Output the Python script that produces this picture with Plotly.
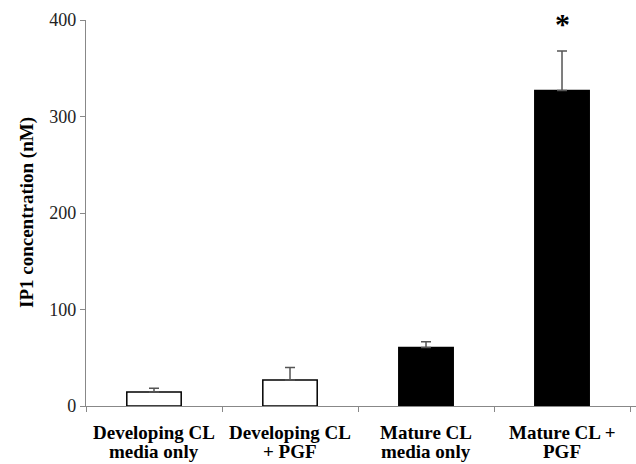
import plotly.graph_objects as go

categories = ["Developing CL media only", "Developing CL + PGF", "Mature CL media only", "Mature CL + PGF"]
label_line1 = ["Developing CL", "Developing CL", "Mature CL", "Mature CL +"]
label_line2 = ["media only", "+ PGF", "media only", "PGF"]
values = [14.5, 27, 60.5, 327]
errors = [4, 13, 6, 41]
fill_colors = ["white", "white", "black", "black"]
y_ticks = [0, 100, 200, 300, 400]
y_title = "IP1 concentration (nM)"
star_label = "*"

fig = go.Figure()
fig.add_trace(go.Bar(
    x=categories, y=values,
    marker=dict(color=fill_colors, line=dict(color="black", width=1.5)),
    error_y=dict(type="data", array=errors, arrayminus=[0]*len(errors), symmetric=False,
                 color="#555555", thickness=1.5, width=5),
    width=0.4,
    cliponaxis=False,
))
fig.add_annotation(x=categories[3], y=1.0, xref="x", yref="paper", text="<b>" + star_label + "</b>",
                   showarrow=False,
                   font=dict(family="Liberation Serif", size=30, color="black"),
                   yanchor="middle", yshift=-3)

lab_font = dict(family="Liberation Serif", size=19, color="black")
for c, l1, l2 in zip(categories, label_line1, label_line2):
    fig.add_annotation(x=c, y=0, xref="x", yref="paper", text="<b>" + l1 + "</b>",
                       showarrow=False, font=lab_font, yanchor="middle", yshift=-26)
    fig.add_annotation(x=c, y=0, xref="x", yref="paper", text="<b>" + l2 + "</b>",
                       showarrow=False, font=lab_font, yanchor="middle", yshift=-45)

fig.add_annotation(x=0, y=0.5, xref="paper", yref="paper", text="<b>" + y_title + "</b>",
                   textangle=-90, showarrow=False, xanchor="center", yanchor="middle", xshift=-59,
                   font=dict(family="Liberation Serif", size=19, color="black"))

fig.update_layout(
    width=636, height=464,
    margin=dict(l=86, r=0, t=20, b=58, autoexpand=False),
    plot_bgcolor="white", paper_bgcolor="white",
    showlegend=False,
    xaxis=dict(range=[-0.5, 3.544], showline=True, linecolor="#888888", linewidth=1.2,
               showticklabels=False,
               ticks="outside", tickson="boundaries", ticklen=5, tickcolor="#888888",
               showgrid=False, zeroline=False, automargin=False),
    yaxis=dict(range=[0, 400], tickvals=y_ticks, showline=True, linecolor="#888888", linewidth=1.2,
               ticks="outside", ticklen=5, tickcolor="#888888",
               tickfont=dict(family="Liberation Serif", size=18, color="#222222"),
               showgrid=False, zeroline=False, automargin=False),
)
fig.write_html("out.html", config={"displayModeBar": False})

with open("out.html", "r", encoding="utf-8") as f:
    html = f.read()
html = html.replace("<body>", '<body style="margin:0;padding:0;">', 1)
with open("out.html", "w", encoding="utf-8") as f:
    f.write(html)
